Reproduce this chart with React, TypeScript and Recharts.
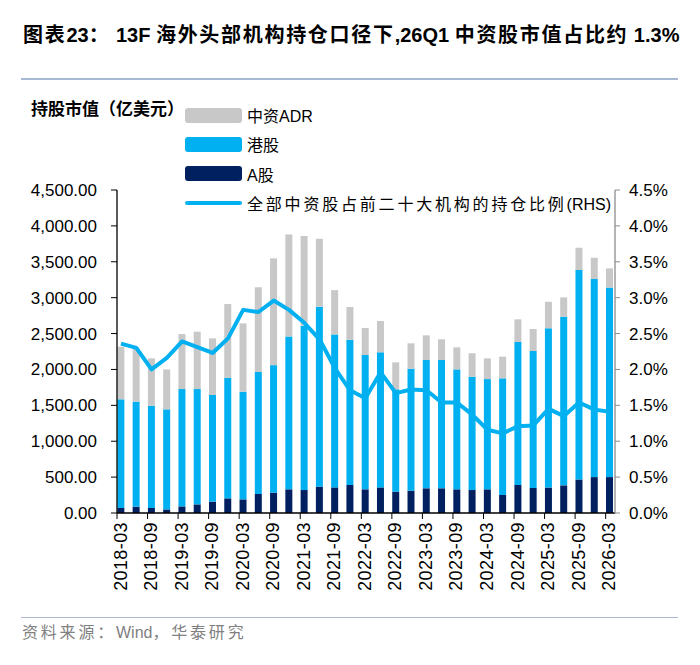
import React from 'react';
import { ComposedChart, Bar, Line, XAxis, YAxis, Legend } from 'recharts';

const quarters = [
  '2018-03', '2018-06', '2018-09', '2018-12',
  '2019-03', '2019-06', '2019-09', '2019-12',
  '2020-03', '2020-06', '2020-09', '2020-12',
  '2021-03', '2021-06', '2021-09', '2021-12',
  '2022-03', '2022-06', '2022-09', '2022-12',
  '2023-03', '2023-06', '2023-09', '2023-12',
  '2024-03', '2024-06', '2024-09', '2024-12',
  '2025-03', '2025-06', '2025-09', '2025-12',
  '2026-03',
];

// 亿美元
const aShares = [
  70, 88, 70, 50, 92, 120, 158, 204,
  190, 265, 283, 330, 320, 367, 357, 390,
  330, 357, 297, 311, 344, 344, 330, 320,
  330, 251, 390, 350, 355, 385, 467, 500,
  500,
];
const hkShares = [
  1514, 1463, 1425, 1394, 1635, 1607, 1486, 1681,
  1500, 1699, 1777, 2130, 2290, 2508, 2130, 2025,
  1871, 1881, 1426, 1699, 1787, 1787, 1671, 1579,
  1536, 1625, 1992, 1907, 2218, 2350, 2918, 2760,
  2640,
];
const adrShares = [
  733, 743, 660, 557, 766, 799, 789, 1026,
  952, 1180, 1488, 1420, 1249, 945, 618, 455,
  376, 437, 376, 354, 344, 289, 307, 326,
  289, 302, 316, 306, 370, 269, 311, 296,
  268,
];
// %
const holdingRatio = [
  2.36, 2.30, 2.00, 2.16, 2.39, 2.31, 2.23, 2.43,
  2.83, 2.80, 2.96, 2.83, 2.65, 2.42, 2.02, 1.71,
  1.60, 1.96, 1.67, 1.72, 1.71, 1.54, 1.54, 1.37,
  1.16, 1.11, 1.21, 1.22, 1.45, 1.35, 1.54, 1.44,
  1.41,
];

const leftTicks = [0, 500, 1000, 1500, 2000, 2500, 3000, 3500, 4000, 4500];
const rightTicks = [0, 0.5, 1, 1.5, 2, 2.5, 3, 3.5, 4, 4.5];
const xTickIndices = [0, 2, 4, 6, 8, 10, 12, 14, 16, 18, 20, 22, 24, 26, 28, 30, 32];

const titleText = '图表23： 13F 海外头部机构持仓口径下,26Q1 中资股市值占比约 1.3%';
const yLabelText = '持股市值（亿美元）';
const sourceText = '资料来源：Wind，华泰研究';
const nameADR = '中资ADR';
const nameHK = '港股';
const nameA = 'A股';
const nameRatio = '全部中资股占前二十大机构的持仓比例(RHS)';
const legendOrder = [nameADR, nameHK, nameA, nameRatio];

const data = quarters.map((q, i) => ({
  idx: i,
  q,
  a: aShares[i],
  hk: hkShares[i],
  adr: adrShares[i],
  ratio: holdingRatio[i],
}));

const FONT = "'Liberation Sans', Arial, 'Noto Sans CJK SC', sans-serif";
const C_ADR = '#c8c8c8';
const C_HK = '#00b0f0';
const C_A = '#002060';
const C_LINE = '#00b0f0';

const isCJK = (ch: string) => /[\u3000-\u9fff\uff00-\uffef]/.test(ch);

function SpacedText({ text, spacing }: { text: string; spacing: number }) {
  const runs: { s: string; cjk: boolean }[] = [];
  for (const ch of text) {
    const c = isCJK(ch);
    if (runs.length && runs[runs.length - 1].cjk === c) runs[runs.length - 1].s += ch;
    else runs.push({ s: ch, cjk: c });
  }
  return (
    <>
      {runs.map((r, i) => (
        <span key={i} style={{ letterSpacing: r.cjk ? spacing : 0 }}>{r.s}</span>
      ))}
    </>
  );
}

const legendSpacing: Record<string, number> = {
  [nameADR]: 0,
  [nameHK]: 0,
  [nameA]: 0,
  [nameRatio]: 2.8,
};

function renderLegend(props: any) {
  const payload: any[] = props.payload || [];
  const items = legendOrder
    .map((n) => payload.find((p) => p.value === n))
    .filter(Boolean);
  return (
    <div style={{ fontFamily: FONT }}>
      {items.map((p: any) => {
        const isLine = p.value === nameRatio;
        return (
          <div key={p.value} style={{ height: 29.3, display: 'flex', alignItems: 'center' }}>
            <div
              style={{
                width: 57,
                height: isLine ? 4 : 15,
                borderRadius: isLine ? 2 : 3,
                background: p.color,
                flex: '0 0 auto',
              }}
            />
            <div style={{ marginLeft: 5, fontSize: 16, color: '#000', whiteSpace: 'nowrap' }}>
              <SpacedText text={p.value} spacing={legendSpacing[p.value] || 0} />
            </div>
          </div>
        );
      })}
    </div>
  );
}

function XTick(props: any) {
  const { x, y, payload } = props;
  const label = quarters[payload.value] ?? '';
  return (
    <g>
      <line x1={x - 4} y1={y - 6} x2={x - 4} y2={y} stroke="#000" strokeWidth={1} />
      <text
        x={x - 0.5}
        y={y + 3}
        transform={`rotate(-90, ${x - 0.5}, ${y + 3})`}
        textAnchor="end"
        dominantBaseline="central"
        fontSize={18}
        letterSpacing={0.4}
        fontFamily={FONT}
        fill="#000"
      >
        {label}
      </text>
    </g>
  );
}

const fmtLeft = (v: number) =>
  v.toLocaleString('en-US', { minimumFractionDigits: 2, maximumFractionDigits: 2 });
const fmtRight = (v: number) => `${v.toFixed(1)}%`;

export default function App() {
  return (
    <div
      style={{
        position: 'absolute',
        left: 0,
        top: 0,
        width: 700,
        height: 665,
        background: '#fff',
        overflow: 'hidden',
        fontFamily: FONT,
      }}
    >
      <div
        style={{
          position: 'absolute',
          left: 23,
          top: 22,
          fontSize: 20,
          fontWeight: 'bold',
          whiteSpace: 'nowrap',
          color: '#000',
          lineHeight: '26px',
        }}
      >
        <SpacedText text={titleText} spacing={1.7} />
      </div>
      <div style={{ position: 'absolute', left: 21, top: 78, width: 657, height: 1.5, background: '#a8b8d3' }} />
      <div
        style={{
          position: 'absolute',
          left: 31,
          top: 98,
          fontSize: 17,
          fontWeight: 'bold',
          whiteSpace: 'nowrap',
          color: '#000',
          lineHeight: '24px',
        }}
      >
        {yLabelText}
      </div>

      <div style={{ position: 'absolute', left: 0, top: 0 }}>
        <ComposedChart
          width={700}
          height={665}
          data={data}
          margin={{ top: 190, right: 15, bottom: 52, left: 17 }}
        >
          <XAxis
            xAxisId="x"
            dataKey="idx"
            type="number"
            domain={[-0.262, 32.35]}
            allowDataOverflow
            ticks={xTickIndices}
            interval={0}
            height={100}
            tickSize={6}
            tickMargin={0}
            tickLine={false}
            axisLine={{ stroke: '#000', strokeWidth: 1.3 }}
            tick={(p: any) => <XTick {...p} />}
          />
          <YAxis
            yAxisId="left"
            orientation="left"
            width={100}
            domain={[0, 4500]}
            ticks={leftTicks}
            interval={0}
            tickFormatter={fmtLeft}
            tickSize={6}
            tickMargin={14}
            axisLine={{ stroke: '#000', strokeWidth: 1.3 }}
            tickLine={{ stroke: '#000' }}
            tick={{ fontSize: 17, fill: '#000', fontFamily: FONT }}
          />
          <YAxis
            yAxisId="right"
            orientation="right"
            width={70}
            domain={[0, 4.5]}
            ticks={rightTicks}
            interval={0}
            tickFormatter={fmtRight}
            tickSize={5}
            tickMargin={9}
            axisLine={{ stroke: '#8c8c8c', strokeWidth: 1.3 }}
            tickLine={{ stroke: '#8c8c8c' }}
            tick={{ fontSize: 17, fill: '#000', fontFamily: FONT, textAnchor: 'start' }}
          />
          <Legend
            layout="vertical"
            align="center"
            verticalAlign="middle"
            content={renderLegend}
            wrapperStyle={{ position: 'absolute', left: 185, top: 100.5, width: 460, height: 120 }}
          />
          <Bar
            xAxisId="x"
            yAxisId="left"
            dataKey="a"
            name={nameA}
            stackId="s"
            fill={C_A}
            barSize={7}
            isAnimationActive={false}
          />
          <Bar
            xAxisId="x"
            yAxisId="left"
            dataKey="hk"
            name={nameHK}
            stackId="s"
            fill={C_HK}
            barSize={7}
            isAnimationActive={false}
          />
          <Bar
            xAxisId="x"
            yAxisId="left"
            dataKey="adr"
            name={nameADR}
            stackId="s"
            fill={C_ADR}
            barSize={7}
            isAnimationActive={false}
          />
          <Line
            xAxisId="x"
            yAxisId="right"
            dataKey="ratio"
            name={nameRatio}
            type="linear"
            stroke={C_LINE}
            strokeWidth={4}
            strokeLinejoin="round"
            dot={false}
            activeDot={false}
            isAnimationActive={false}
          />
        </ComposedChart>
      </div>

      <div style={{ position: 'absolute', left: 21, top: 616.5, width: 657, height: 1.5, background: '#a8b8d3' }} />
      <div
        style={{
          position: 'absolute',
          left: 22,
          top: 623,
          fontSize: 16,
          color: '#808080',
          whiteSpace: 'nowrap',
          lineHeight: '20px',
        }}
      >
        <SpacedText text={sourceText} spacing={2.8} />
      </div>
    </div>
  );
}
